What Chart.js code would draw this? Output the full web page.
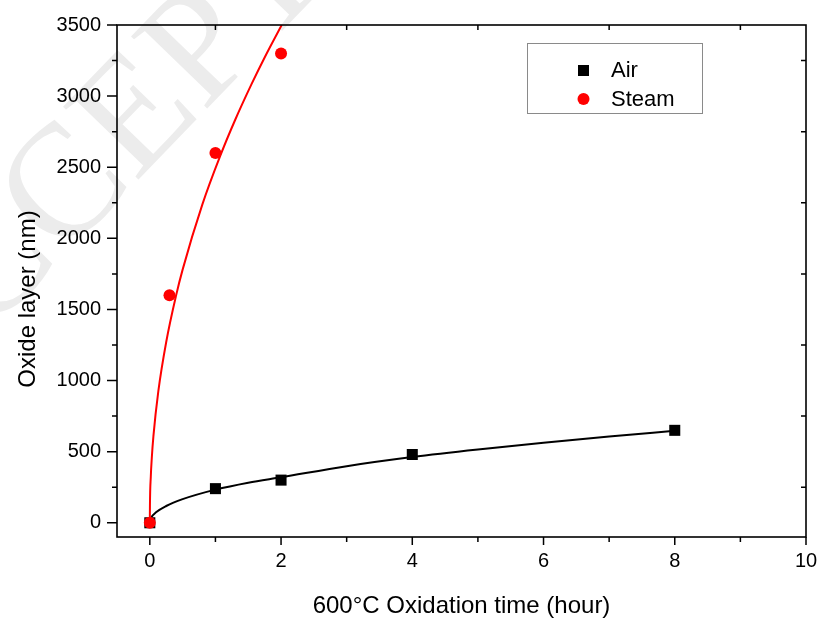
<!DOCTYPE html>
<html><head><meta charset="utf-8">
<script src="https://cdn.jsdelivr.net/npm/chart.js@4/dist/chart.umd.min.js"></script>
<style>html,body{margin:0;padding:0;background:#fff}#wrap{width:820px;height:624px}</style>
</head><body><div id="wrap"><canvas id="c" width="820" height="624"></canvas></div>
<script>
// ---- data ----
const xTickLabels = [0, 2, 4, 6, 8, 10];
const yTickLabels = [0, 500, 1000, 1500, 2000, 2500, 3000, 3500];
const airTime = [0, 1, 2, 4, 8];
const airOxide = [0, 240, 300, 480, 650];
const steamTime = [0, 0.3, 1, 2];
const steamOxide = [0, 1600, 2600, 3300];
// fitted curves
const airFitTime = [0, 0.005, 0.02, 0.1, 0.25, 0.5, 1, 1.5, 2, 3, 4, 5, 6, 7, 8];
const airFitOxide = [0, 18, 35, 75, 118, 166, 233, 282, 320, 398, 462, 515, 562, 606, 647];
const steamFitTime = [0, 0.002, 0.015, 0.03, 0.055, 0.13, 0.25, 0.4, 0.5, 0.8, 1.07, 1.3, 1.55, 1.75, 2.01];
const steamFitOxide = [0, 122, 324, 454, 609, 925, 1271, 1597, 1780, 2237, 2576, 2832, 3084, 3272, 3500];
const seriesNames = ['Air', 'Steam'];
const xTitle = '600\u00B0C Oxidation time (hour)';
const yTitle = 'Oxide layer (nm)';

const FONT = '"Liberation Sans", Arial, sans-serif';
const RED = '#ff0000';
const BLACK = '#000000';
const pts = (xs, ys) => xs.map((x, i) => ({x: x, y: ys[i]}));

const decor = {
  id: 'decor',
  beforeDraw(chart) {
    const ctx = chart.ctx;
    ctx.save();
    ctx.fillStyle = '#ffffff';
    ctx.fillRect(0, 0, chart.width, chart.height);
    // faint watermark
    ctx.translate(68, 192);
    ctx.rotate(-46 * Math.PI / 180);
    ctx.font = '160px "Liberation Serif", "Times New Roman", serif';
    ctx.fillStyle = '#ececec';
    ctx.textBaseline = 'middle';
    const off = ctx.measureText('AC').width + ctx.measureText('C').width / 2;
    ctx.fillText('ACCEPTED MANUSCRIPT', -off, 0);
    ctx.restore();
  },
  afterDraw(chart) {
    const ctx = chart.ctx;
    const a = chart.chartArea;
    const xs = chart.scales.x, ys = chart.scales.y;
    ctx.save();
    ctx.strokeStyle = BLACK;
    ctx.lineWidth = 1.6;
    ctx.strokeRect(a.left, a.top, a.right - a.left, a.bottom - a.top);
    ctx.lineWidth = 1.5;
    ctx.beginPath();
    for (let v = 0; v <= 10; v += 1) {
      const px = xs.getPixelForValue(v);
      const len = (v % 2 === 0) ? 8 : 5;
      ctx.moveTo(px, a.bottom); ctx.lineTo(px, a.bottom + len);
      if (v % 2 === 1) { ctx.moveTo(px, a.top); ctx.lineTo(px, a.top + 5); }
    }
    for (let v = 0; v <= 3500; v += 250) {
      const py = ys.getPixelForValue(v);
      const len = (v % 500 === 0) ? 10 : 5;
      ctx.moveTo(a.left, py); ctx.lineTo(a.left - len, py);
      if (v % 500 !== 0) { ctx.moveTo(a.right, py); ctx.lineTo(a.right - 5, py); }
    }
    ctx.stroke();

    // axis titles
    ctx.fillStyle = BLACK;
    ctx.font = '24px ' + FONT;
    ctx.textAlign = 'center';
    ctx.textBaseline = 'middle';
    ctx.fillText(xTitle, (a.left + a.right) / 2, 606);
    ctx.save();
    ctx.translate(28, 299);
    ctx.rotate(-Math.PI / 2);
    ctx.fillText(yTitle, 0, 0);
    ctx.restore();

    // legend
    ctx.lineWidth = 1;
    ctx.strokeStyle = '#8a8a8a';
    ctx.strokeRect(527.5, 43.5, 175, 70);
    ctx.fillStyle = BLACK;
    ctx.fillRect(578, 65, 11, 11);
    ctx.fillStyle = RED;
    ctx.beginPath(); ctx.arc(583.5, 99, 6, 0, Math.PI * 2); ctx.fill();
    ctx.fillStyle = BLACK;
    ctx.font = '22px ' + FONT;
    ctx.textAlign = 'left';
    ctx.fillText(seriesNames[0], 611, 71);
    ctx.fillText(seriesNames[1], 611, 100);
    ctx.restore();
  }
};

new Chart(document.getElementById('c'), {
  type: 'scatter',
  data: {
    datasets: [
      {label: seriesNames[1], data: pts(steamTime, steamOxide), order: 0,
       pointStyle: 'circle', pointRadius: 6, pointBorderWidth: 0,
       backgroundColor: RED, borderColor: RED, showLine: false},
      {label: seriesNames[0], data: pts(airTime, airOxide), order: 1,
       pointStyle: 'rect', pointRadius: 7.8, pointBorderWidth: 0,
       backgroundColor: BLACK, borderColor: BLACK, showLine: false},
      {label: 'steam fit', data: pts(steamFitTime, steamFitOxide), order: 2,
       showLine: true, pointRadius: 0, borderColor: RED, borderWidth: 2,
       cubicInterpolationMode: 'monotone', fill: false},
      {label: 'air fit', data: pts(airFitTime, airFitOxide), order: 3,
       showLine: true, pointRadius: 0, borderColor: BLACK, borderWidth: 2,
       cubicInterpolationMode: 'monotone', fill: false}
    ]
  },
  options: {
    responsive: false,
    animation: false,
    devicePixelRatio: 1,
    layout: {padding: {left: 0, right: 14, top: 25, bottom: 0}},
    plugins: {legend: {display: false}, tooltip: {enabled: false}},
    scales: {
      x: {
        type: 'linear', min: -0.5, max: 10,
        afterBuildTicks: s => { s.ticks = xTickLabels.map(v => ({value: v})); },
        afterFit: s => { s.height = 87; s.paddingLeft = 0; s.paddingRight = 0; },
        grid: {display: false, drawTicks: false},
        border: {display: false},
        ticks: {color: BLACK, font: {family: FONT, size: 20}, padding: 12, maxRotation: 0,
                callback: v => String(v)}
      },
      y: {
        type: 'linear', min: -100, max: 3500,
        afterBuildTicks: s => { s.ticks = yTickLabels.map(v => ({value: v})); },
        afterFit: s => { s.width = 117; s.paddingTop = 0; s.paddingBottom = 0; },
        grid: {display: false, drawTicks: false},
        border: {display: false},
        ticks: {color: BLACK, font: {family: FONT, size: 20}, padding: 16,
                callback: v => String(v)}
      }
    }
  },
  plugins: [decor]
});
</script>
</body></html>
